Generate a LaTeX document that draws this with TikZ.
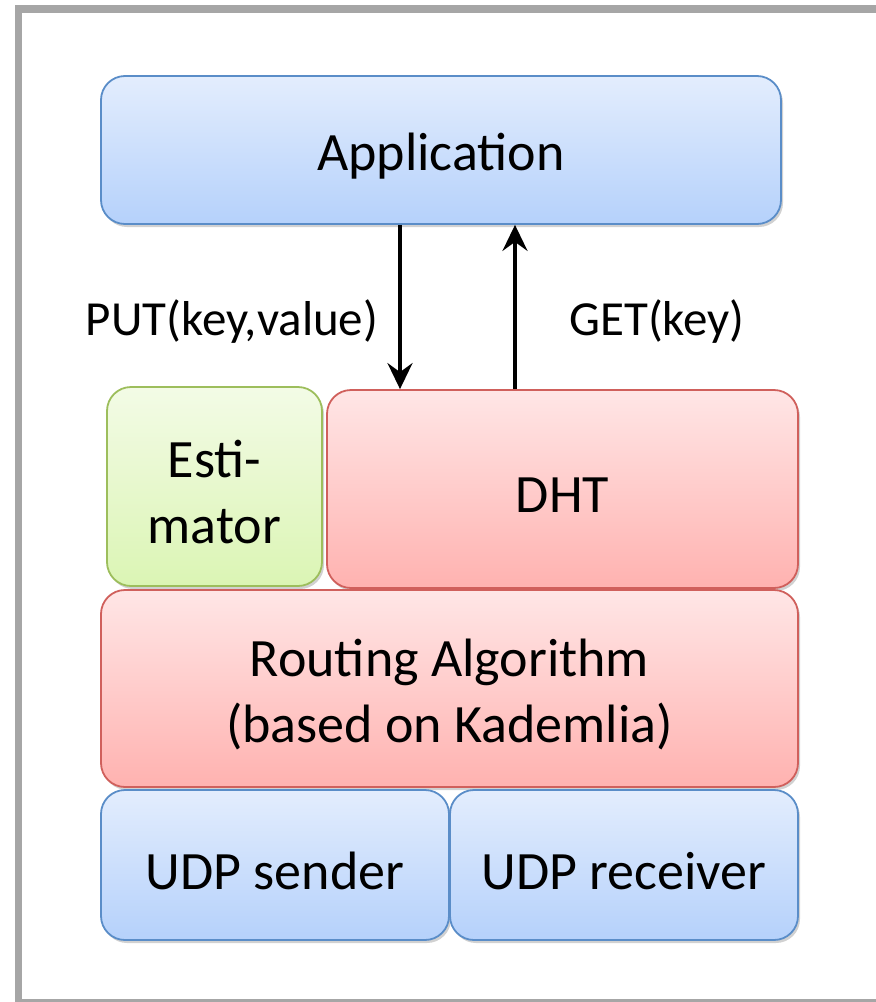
\documentclass[tikz,border=0pt]{standalone}
\usepackage{fontspec}
\setmainfont{Carlito}
\usetikzlibrary{arrows.meta,shadows}
\definecolor{frameg}{HTML}{A6A6A6}
\definecolor{bluetop}{HTML}{E3EDFD}
\definecolor{bluebot}{HTML}{B5D1FB}
\definecolor{blueline}{HTML}{5A8DC8}
\definecolor{redtop}{HTML}{FFE6E6}
\definecolor{redbot}{HTML}{FFB2B0}
\definecolor{redline}{HTML}{D0605C}
\definecolor{greentop}{HTML}{F3FBE6}
\definecolor{greenbot}{HTML}{DBF5B4}
\definecolor{greenline}{HTML}{9DBE5C}
\tikzset{
  layertext/.style={align=center, font=\fontsize{54bp}{66bp}\selectfont,
    inner sep=0pt, yshift=-6bp},
  layer/.style={rounded corners=24bp, line width=1.8bp,
    drop shadow={shadow xshift=2bp, shadow yshift=-3bp, opacity=0.3, fill=black!60},
    label={[layertext]center:#1}},
  bluebox/.style={layer={#1}, draw=blueline, top color=bluetop, bottom color=bluebot},
  redbox/.style={layer={#1}, draw=redline, top color=redtop, bottom color=redbot},
  greenbox/.style={layer={#1}, draw=greenline, top color=greentop, bottom color=greenbot},
  callarrow/.style={line width=3.5bp, -{Stealth[length=26bp, width=25bp, inset=9bp]}},
  calllabel/.style={font=\fontsize{49bp}{58bp}\selectfont, inner sep=0pt}
}
\begin{document}
\begin{tikzpicture}[x=1bp,y=-1bp]
\useasboundingbox (0,0) rectangle (876,1002);
% frame
\fill[frameg] (15,5) rectangle (876,13);
\fill[frameg] (15,5) rectangle (22,1002);
\fill[frameg] (15,999) rectangle (876,1002);

\node[bluebox={Application}, minimum width=680bp, minimum height=148bp] (app) at (441,150) {};
\node[greenbox={Esti-\\mator}, minimum width=215bp, minimum height=199bp] (est) at (214.5,486.5) {};
\node[redbox={DHT}, minimum width=471bp, minimum height=198bp] (dht) at (562.5,489) {};
\node[redbox={Routing Algorithm\\(based on Kademlia)}, minimum width=697bp, minimum height=197bp] (route) at (449.5,688.5) {};
\node[bluebox={UDP sender}, minimum width=348bp, minimum height=150bp] (send) at (275,865) {};
\node[bluebox={UDP receiver}, minimum width=348bp, minimum height=150bp] (recv) at (624,865) {};

\coordinate (putx) at (400,0);
\coordinate (getx) at (515,0);
\draw[callarrow] (app.south -| putx) -- (dht.north -| putx);
\draw[callarrow] (dht.north -| getx) -- (app.south -| getx);

\node[calllabel] (put) at (232,322) {PUT(key,value)};
\node[calllabel] (get) at (657,322) {GET(key)};
\end{tikzpicture}
\end{document}
